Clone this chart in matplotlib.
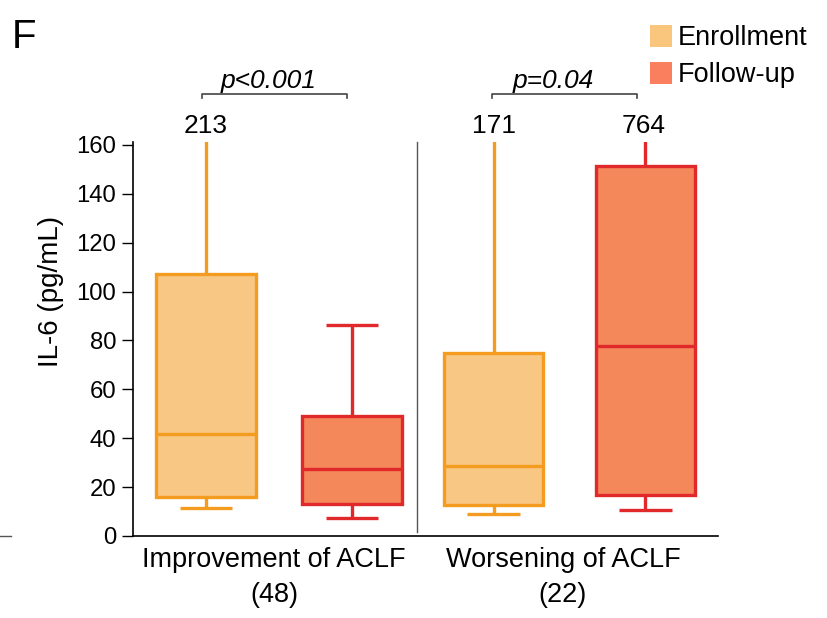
import matplotlib
matplotlib.use("Agg")
import matplotlib.pyplot as plt
from matplotlib.patches import Patch
from matplotlib.lines import Line2D

plt.rcParams['font.family'] = ['Liberation Sans', 'DejaVu Sans']

# box statistics (pg/mL)
groups = ["Improvement of ACLF\n(48)", "Worsening of ACLF\n(22)"]
series = ["Enrollment", "Follow-up"]
q1 = [16.0, 13.1, 12.7, 16.8]
med = [41.7, 27.4, 28.6, 77.7]
q3 = [107.2, 49.1, 74.9, 151.4]
whislo = [11.5, 7.4, 9.0, 10.6]
whishi = [213, 86.3, 171, 764]
top_labels = ["213", None, "171", "764"]
pvals = ["p<0.001", "p=0.04"]

fill = ["#F9C784", "#F4885A"]
edge = ["#F39C1F", "#E1282B"]
legend_fill = ["#FAC67E", "#FA7F5F"]

fig = plt.figure(figsize=(8.27, 6.18), dpi=100)
ax = fig.add_axes([133/827, 82/618, 585/827, 394/618])

pos = [0.5, 1.5, 2.47, 3.51]
stats = []
for i in range(4):
    stats.append(dict(q1=q1[i], med=med[i], q3=q3[i], whislo=whislo[i],
                      whishi=whishi[i], fliers=[]))

for i in range(4):
    k = i % 2
    lp = dict(color=edge[k], linewidth=2.4, solid_capstyle='butt')
    ax.bxp([stats[i]], positions=[pos[i]], widths=0.68, capwidths=0.36,
           patch_artist=True, showfliers=False,
           boxprops=dict(facecolor=fill[k], edgecolor=edge[k], linewidth=2.4),
           medianprops=lp, whiskerprops=lp, capprops=lp)
    if top_labels[i]:
        ax.text(pos[i] - (0.015 if i == 3 else 0), 164.9, top_labels[i],
                ha='center', va='baseline', fontsize=19, clip_on=False)

ax.set_xlim(0, 4.007)
ax.set_ylim(0, 161.2)
ax.set_yticks(range(0, 161, 20))
ax.tick_params(axis='y', labelsize=17.2, length=8, width=1, pad=4, direction='out')
ax.set_xticks([0.966, 2.945])
ax.set_xticklabels(groups, fontsize=19.5, linespacing=1.45)
ax.tick_params(axis='x', length=0, pad=8)
for s in ['top', 'right']:
    ax.spines[s].set_visible(False)
for s in ['left', 'bottom']:
    ax.spines[s].set_linewidth(1.2)

# divider between groups
ax.plot([1.945, 1.945], [1.5, 161.2], color='#555555', lw=1, clip_on=False)

# significance brackets
br = [(0.473, 1.466, 0.932), (2.459, 3.452, 2.877)]
for (x0, x1, xt), p in zip(br, pvals):
    ax.plot([x0, x0, x1, x1], [179.4, 180.8, 180.8, 179.4], color='#444444',
            lw=1.2, clip_on=False)
    ax.text(xt, 183.3, p, ha='center', va='baseline', fontsize=19,
            style='italic', clip_on=False)

fig.text(51/827, 1 - 291/618, "IL-6 (pg/mL)", rotation=90, ha='center',
         va='center', fontsize=20)
fig.text(12/827, 1 - 48/618, "F", fontsize=29, ha='left', va='baseline')
fig.add_artist(Line2D([0, 11/827], [1 - 536/618, 1 - 536/618], color='#555555', lw=1))

handles = [Patch(facecolor=c, edgecolor='none') for c in legend_fill]
fig.legend(handles, series, loc='upper left', bbox_to_anchor=(650/827, 1 - 25/618),
           frameon=False, fontsize=19.5, handlelength=0.8, handleheight=0.85,
           handletextpad=0.22, labelspacing=0.4, borderpad=0, borderaxespad=0)

fig.savefig("out.png", dpi=100)
